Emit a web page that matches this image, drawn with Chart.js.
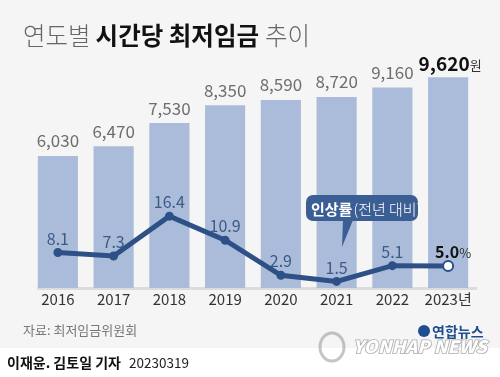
<!DOCTYPE html>
<html>
<head>
<meta charset="utf-8">
<script src="https://cdn.jsdelivr.net/npm/chart.js@4"></script>
<style>
  html, body { margin: 0; padding: 0; background: #ffffff; }
  #wrap { width: 500px; height: 377px; position: relative; }
</style>
</head>
<body>
<div id="wrap"><canvas id="wage" width="500" height="377"></canvas></div>
<script>
var years = ["2016", "2017", "2018", "2019", "2020", "2021", "2022", "2023년"];
var wages = [6030, 6470, 7530, 8350, 8590, 8720, 9160, 9620];
var raiseRates = [8.1, 7.3, 16.4, 10.9, 2.9, 1.5, 5.1, 5.0];

var KR = "'Noto Sans CJK KR', 'Noto Sans', sans-serif";
var barColor = '#aabcd9';
var lineColor = '#2d5186';

// background, title, labels, callout, credits
var decor = {
    id: 'decor',
    beforeDraw: function (chart) {
        var c = chart.ctx;
        c.save();
        c.fillStyle = '#f5f5f5';
        c.fillRect(0, 0, 500, 348);
        c.fillStyle = '#ffffff';
        c.fillRect(0, 348, 500, 29);

        // title
        c.textBaseline = 'alphabetic';
        c.textAlign = 'left';
        var x = 23;
        c.font = '300 24.5px ' + KR;
        c.fillStyle = '#666';
        c.fillText('연도별', x, 45);
        x += c.measureText('연도별').width + 5;
        c.font = 'bold 24.5px ' + KR;
        c.fillStyle = '#111';
        c.fillText('시간당 최저임금', x, 45);
        x += c.measureText('시간당 최저임금').width + 6;
        c.font = '300 24.5px ' + KR;
        c.fillStyle = '#666';
        c.fillText('추이', x, 45);

        // baseline shadow
        var a = chart.chartArea;
        c.fillStyle = 'rgba(0,0,0,0.10)';
        c.fillRect(37, a.bottom - 1, 440, 3);
        c.restore();
    },
    afterDatasetsDraw: function (chart) {
        var c = chart.ctx;
        c.save();
        var bars = chart.getDatasetMeta(0).data;
        var pts = chart.getDatasetMeta(1).data;
        var last = wages.length - 1;
        c.textBaseline = 'middle';
        c.textAlign = 'center';

        bars.forEach(function (b, i) {
            var txt = wages[i].toLocaleString('en-US');
            if (i === last) {
                c.font = 'bold 19px ' + KR;
                var w = c.measureText(txt).width;
                c.fillStyle = '#111';
                c.textAlign = 'left';
                c.fillText(txt, b.x - w / 2 - 4, b.y - 14);
                c.font = '13px ' + KR;
                c.fillStyle = '#333';
                c.fillText('원', b.x + w / 2 - 4, b.y - 12);
                c.textAlign = 'center';
            } else {
                c.font = '17px ' + KR;
                c.fillStyle = '#6e6e6e';
                c.fillText(txt, b.x, b.y - 15);
            }
        });

        pts.forEach(function (p, i) {
            var txt = raiseRates[i].toFixed(1);
            if (i === last) {
                c.font = 'bold 16px ' + KR;
                var w = c.measureText(txt).width;
                c.fillStyle = '#111';
                c.textAlign = 'left';
                c.fillText(txt, p.x - w / 2 - 1, p.y - 14);
                c.font = '13px ' + KR;
                c.fillStyle = '#333';
                c.fillText('%', p.x + w / 2 - 1, p.y - 13);
                c.textAlign = 'center';
            } else {
                c.font = '16px ' + KR;
                c.fillStyle = '#3c5a86';
                c.fillText(txt, p.x, p.y - 14);
            }
        });

        // callout
        var bx = 306, by = 195, bw = 112, bh = 26;
        c.fillStyle = '#3b5f95';
        c.beginPath();
        c.roundRect(bx, by, bw, bh, 7);
        c.fill();
        c.beginPath();
        c.moveTo(343, by + bh - 1);
        c.lineTo(353, by + bh - 1);
        c.lineTo(342, 247);
        c.closePath();
        c.fill();
        c.fillStyle = '#ffffff';
        c.textAlign = 'left';
        c.font = 'bold 15px ' + KR;
        c.fillText('인상률', bx + 5, by + bh / 2 + 1);
        var tw = c.measureText('인상률').width;
        c.font = '300 15px ' + KR;
        c.fillText('(전년 대비)', bx + 5 + tw + 1, by + bh / 2 + 1);

        // source
        c.font = '13px ' + KR;
        c.fillStyle = '#777';
        c.fillText('자료: 최저임금위원회', 23, 330);

        // logo
        c.font = 'bold 14px ' + KR;
        c.fillStyle = '#1f4f91';
        c.fillText('연합뉴스', 432, 332);
        c.beginPath();
        c.arc(424, 331, 6, 0, Math.PI * 2);
        c.fill();
        c.strokeStyle = 'rgba(140,140,140,0.5)';
        c.lineWidth = 3;
        c.beginPath();
        c.ellipse(332, 347, 12, 14, 0, 0, Math.PI * 2);
        c.stroke();
        c.font = 'italic 900 17px ' + KR;
        var lw = c.measureText('YONHAP NEWS').width;
        c.translate(353, 347);
        c.scale(134 / lw, 1);
        c.lineWidth = 1.5;
        c.strokeStyle = 'rgba(140,140,140,0.7)';
        c.strokeText('YONHAP NEWS', 0, 0);
        c.fillStyle = 'rgba(255,255,255,0.95)';
        c.fillText('YONHAP NEWS', 0, 0);
        c.setTransform(1, 0, 0, 1, 0, 0);

        // credits
        c.fillStyle = '#111';
        c.font = 'bold 14px ' + KR;
        c.fillText('이재윤. 김토일 기자', 7, 363);
        c.font = '13.5px ' + KR;
        c.fillStyle = '#222';
        c.fillText('20230319', 129, 363);
        c.restore();
    }
};

var ctx = document.getElementById('wage').getContext('2d');
var chart = new Chart(ctx, {
    type: 'bar',
    data: {
        labels: years,
        datasets: [{
            type: 'bar',
            label: '시간당 최저임금',
            data: wages,
            backgroundColor: barColor,
            borderWidth: 0,
            categoryPercentage: 1,
            barPercentage: 0.72,
            yAxisID: 'y',
            order: 2
        }, {
            type: 'line',
            label: '인상률',
            data: raiseRates,
            borderColor: lineColor,
            borderWidth: 5,
            pointRadius: [3.5, 3.5, 3.5, 3.5, 3.5, 3.5, 3.5, 5],
            pointBackgroundColor: [lineColor, lineColor, lineColor, lineColor, lineColor, lineColor, lineColor, '#ffffff'],
            pointBorderColor: lineColor,
            pointBorderWidth: 2,
            tension: 0,
            yAxisID: 'y2',
            order: 1
        }]
    },
    options: {
        responsive: false,
        animation: false,
        devicePixelRatio: 1,
        layout: { padding: { left: 30, right: 24, top: 69, bottom: 67 } },
        plugins: {
            legend: { display: false },
            tooltip: { enabled: false }
        },
        scales: {
            x: {
                grid: { display: false, drawTicks: false },
                border: { display: false },
                ticks: {
                    color: '#333',
                    padding: 2,
                    font: { size: 15, family: KR }
                }
            },
            y: { display: false, min: 0, max: 10000 },
            y2: { display: false, min: 0, max: 50 }
        }
    },
    plugins: [decor]
});
</script>
</body>
</html>
